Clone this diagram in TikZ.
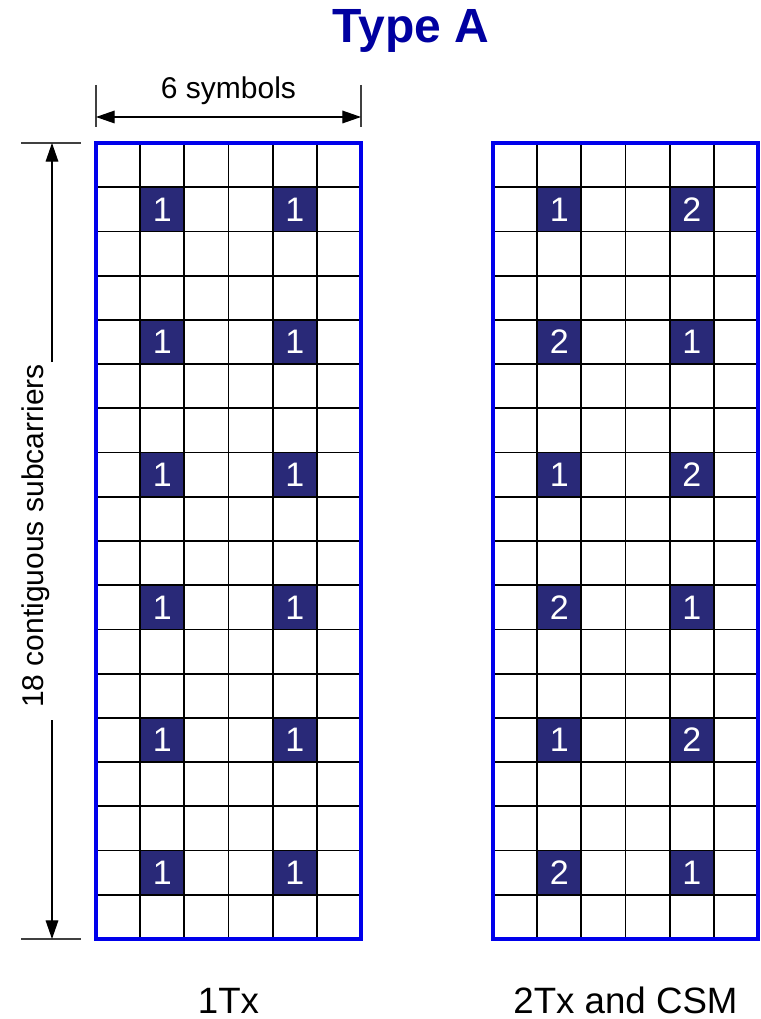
\documentclass[tikz,border=0pt]{standalone}
\usepackage{fontspec}
\setmainfont{Liberation Sans}
\usepackage{tikz}
\usetikzlibrary{arrows.meta, positioning}

\definecolor{titleblue}{RGB}{0,0,160}
\definecolor{frameblue}{RGB}{0,0,235}
\definecolor{pilotblue}{RGB}{41,41,120}

\begin{document}
\begin{tikzpicture}[x=0.75pt, y=-0.75pt,
    >={Triangle[length=14pt, width=9.5pt]},
    gridline/.style={black, line width=1.35pt},
    rbframe/.style={draw=frameblue, line width=2.5pt},
    pilot/.style={rectangle, fill=pilotblue, text=white, inner sep=0pt,
        minimum width=33.1pt, minimum height=33.2pt,
        font=\fontsize{25.5}{30}\selectfont},
    extline/.style={black!75, line width=0.9pt},
    dimline/.style={black, line width=0.9pt},
    lbl/.style={font=\fontsize{22.5}{27}\selectfont, inner sep=0pt},
    caption/.style={font=\fontsize{27.5}{33}\selectfont, inner sep=0pt}
]
\useasboundingbox (0,0) rectangle (760,1019);
\def\cw{44.1667}
\def\ch{44.2222}

\node[font=\bfseries\fontsize{36}{43}\selectfont, text=titleblue,
    anchor=base, inner sep=0pt] (title) at (411,43) {Type A};

\foreach \r [count=\i] in {1,4,7,10,13,16} {
  \node[pilot] (one-\i-a) at ({96+1.5*\cw},{143+(\r+0.5)*\ch}) {1};
  \node[pilot] (one-\i-b) at ({96+4.5*\cw},{143+(\r+0.5)*\ch}) {1};
}
\foreach \r/\p/\q [count=\i] in {1/1/2,4/2/1,7/1/2,10/2/1,13/1/2,16/2/1} {
  \node[pilot] (two-\i-a) at ({493+1.5*\cw},{143+(\r+0.5)*\ch}) {\p};
  \node[pilot] (two-\i-b) at ({493+4.5*\cw},{143+(\r+0.5)*\ch}) {\q};
}

\foreach \gx in {96,493} {
  \foreach \c in {1,...,5}
    \draw[gridline] ({\gx+\c*\cw},143) -- ({\gx+\c*\cw},939);
  \foreach \r in {1,...,17}
    \draw[gridline] (\gx,{143+\r*\ch}) -- ({\gx+265},{143+\r*\ch});
}
\draw[rbframe] (96,143) rectangle (361,939);
\draw[rbframe] (493,143) rectangle (758,939);

\draw[extline] (96,85) -- (96,127);
\draw[extline] (361,85) -- (361,127);
\coordinate (symL) at (96,117);
\coordinate (symR) at (361,117);
\draw[dimline, <->] (symL) -- (symR);
\node[lbl, anchor=base] (symbols) at (228.5,99) {6 symbols};

\draw[extline] (21,143) -- (81,143);
\draw[extline] (21,939) -- (81,939);
\node[lbl, rotate=90, anchor=base] (subc) at (43,536) {18 contiguous subcarriers};
\coordinate (subTop) at (52,143);
\coordinate (gapTop) at (52,362);
\coordinate (gapBot) at (52,720);
\coordinate (subBot) at (52,939);
\draw[dimline, ->] (gapTop) -- (subTop);
\draw[dimline, ->] (gapBot) -- (subBot);

\node[caption, anchor=base] (txone) at (228.5,1013) {1Tx};
\node[caption, anchor=base] (txtwo) at (625.5,1013) {2Tx and CSM};
\end{tikzpicture}
\end{document}
